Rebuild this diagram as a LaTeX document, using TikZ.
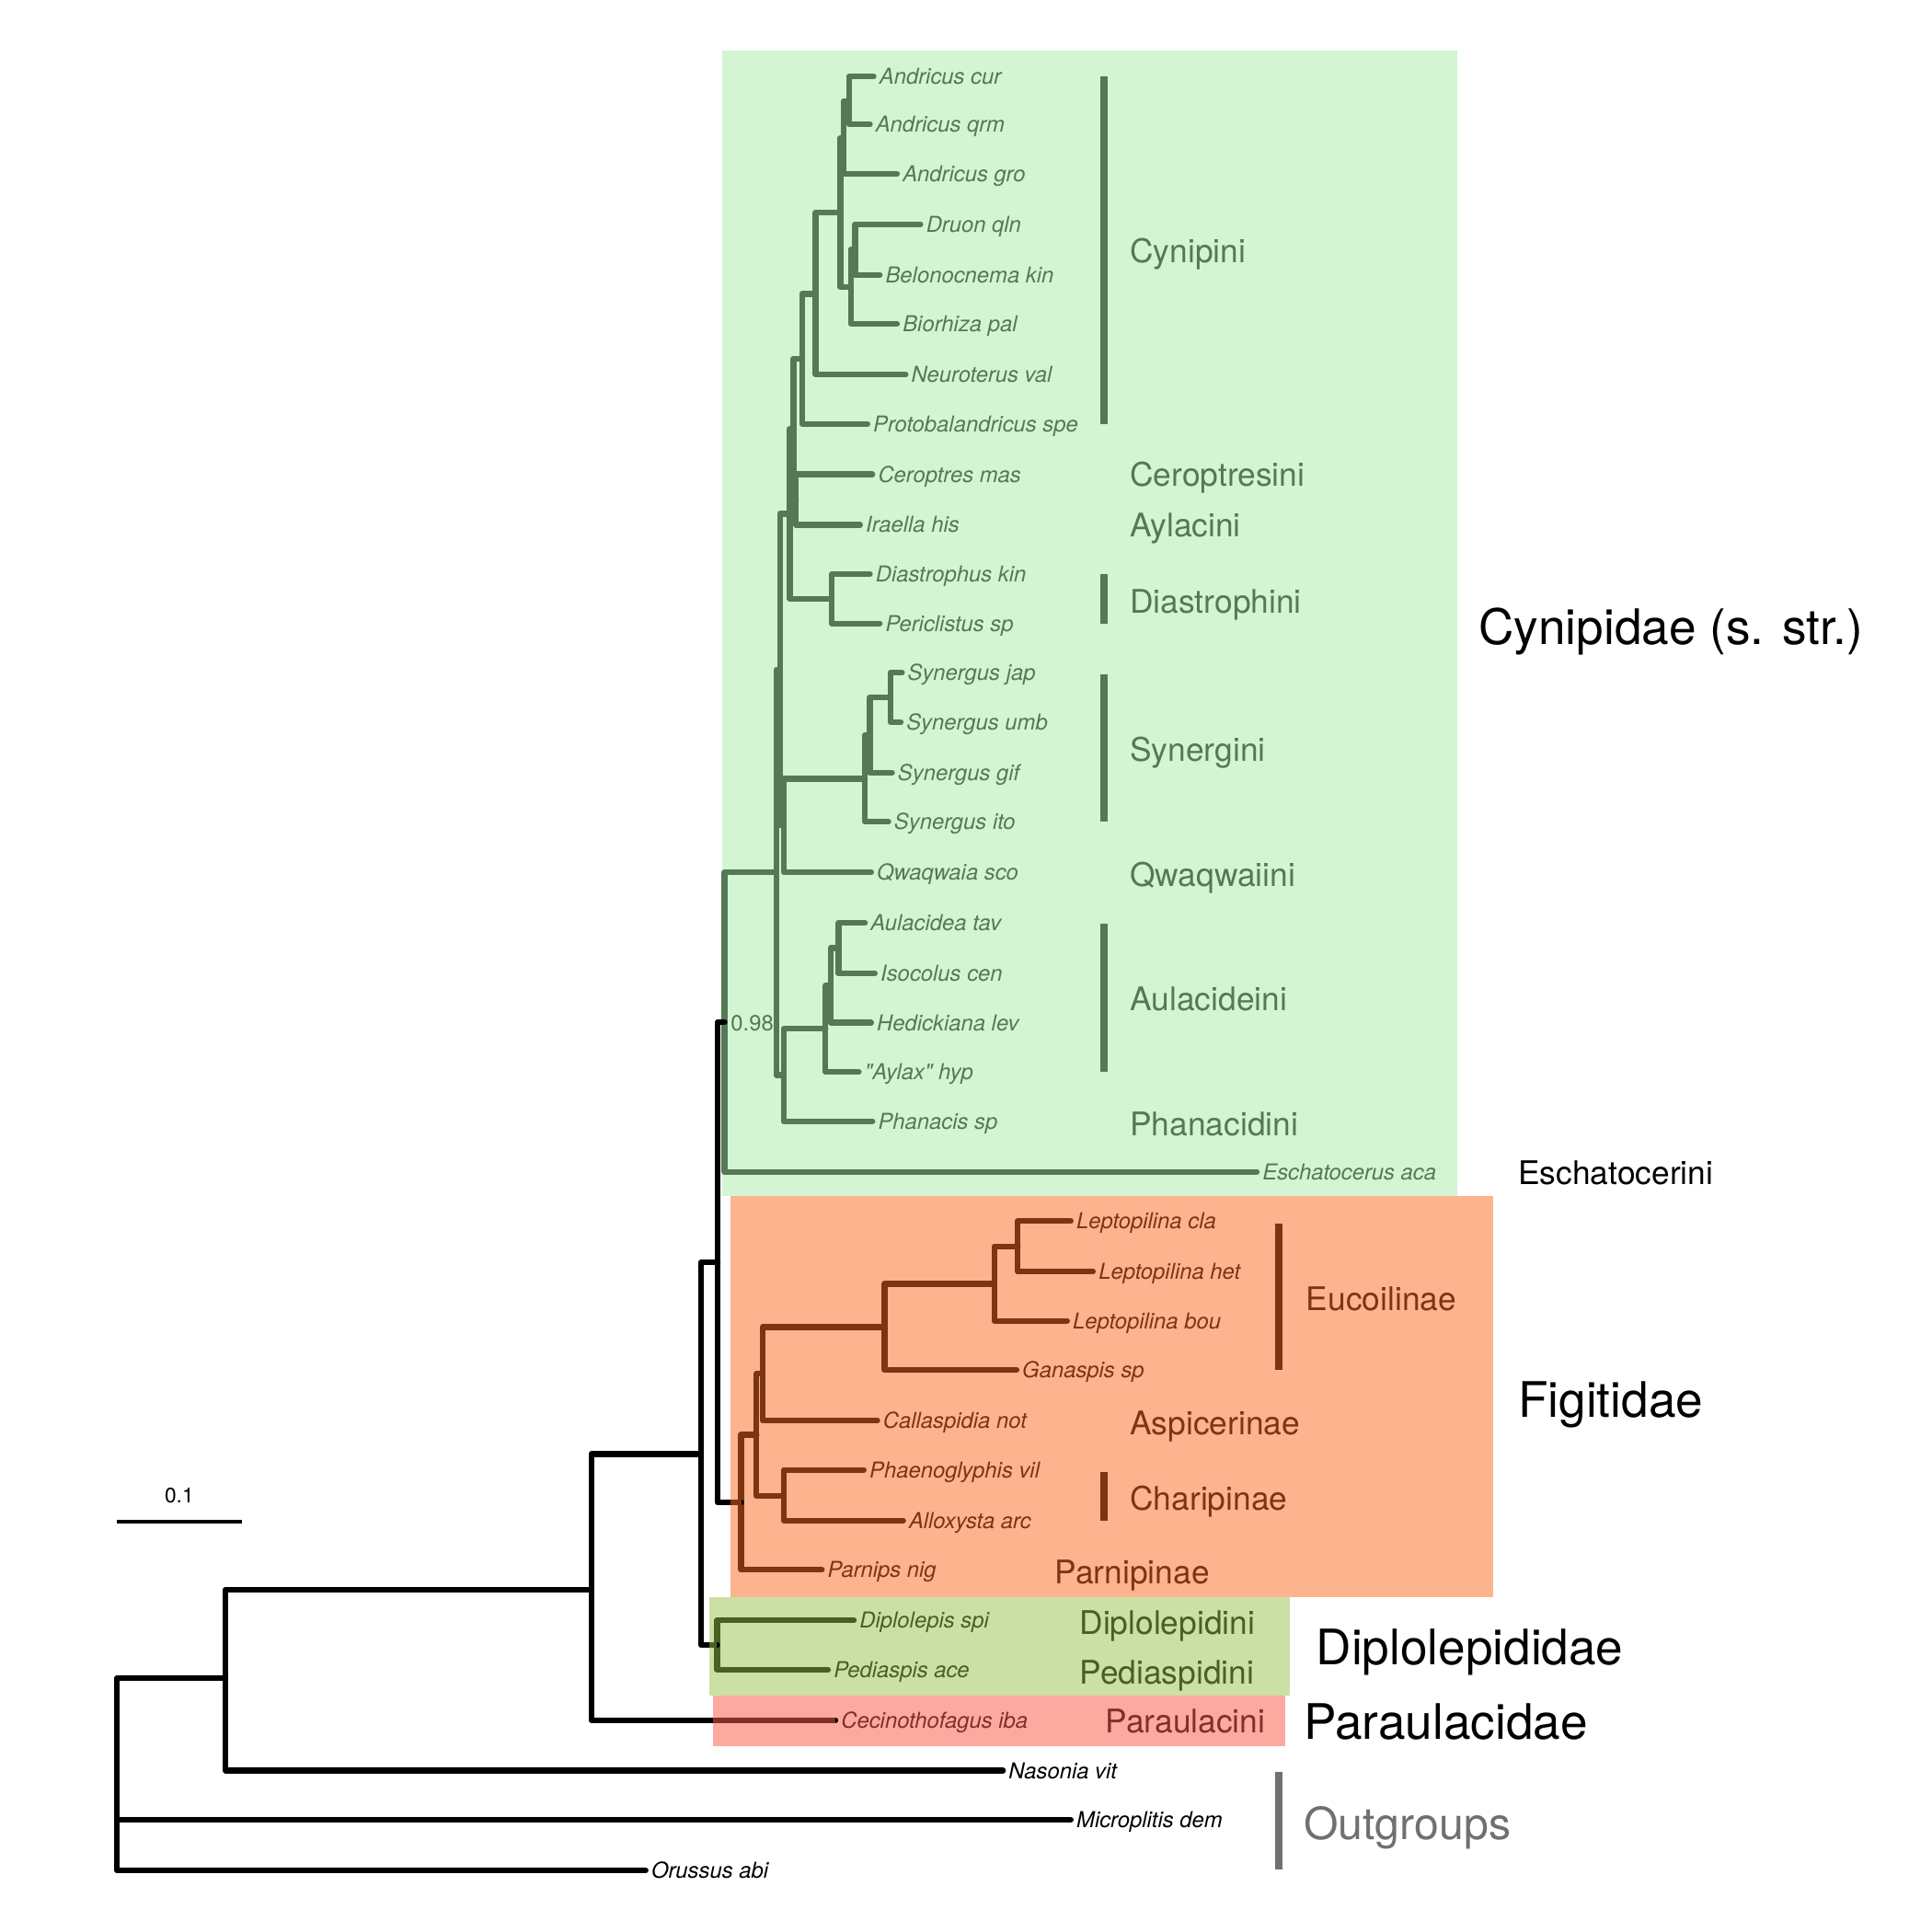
\documentclass[tikz,border=0pt]{standalone}
\usepackage{fontspec}
\setmainfont{TeX Gyre Heros}[Ligatures=TeXOff]
\usepackage{tikz}
\usetikzlibrary{positioning}
\usepackage{xcolor}
\definecolor{cynFill}{RGB}{211,245,211}
\definecolor{figFill}{RGB}{253,179,142}
\definecolor{dipFill}{RGB}{203,224,165}
\definecolor{parFill}{RGB}{252,170,160}
\definecolor{cynTree}{RGB}{85,120,85}
\definecolor{figTree}{RGB}{125,52,18}
\definecolor{dipTree}{RGB}{75,95,35}
\definecolor{parTree}{RGB}{131,46,38}
\definecolor{outGray}{RGB}{112,112,112}
\newcommand{\tiplabfont}{\fontsize{17.8}{20}\selectfont\itshape}
\newcommand{\tribefont}{\fontsize{26.4}{30}\selectfont}
\newcommand{\familyfont}{\fontsize{39.7}{44}\selectfont}

\begin{document}
\begin{tikzpicture}[x=1pt, y=-1pt,
  br/.style={line width=4.7pt, line cap=round, line join=round},
  tiplab/.style={anchor=base west, inner sep=0pt, xshift=4.5pt, yshift=-6.3pt, font=\tiplabfont},
  tribe/.style={anchor=base west, inner sep=0pt, yshift=-9.5pt, font=\tribefont},
  family/.style={anchor=base west, inner sep=0pt, yshift=-14.2pt, font=\familyfont},
  cladebar/.style={line width=6pt}]
  \useasboundingbox (0,0) rectangle (1568,1568);

  % Coloured boxes behind the clades
  \fill[cynFill] (586,41) rectangle (1183,971);
  \fill[figFill] (593,971) rectangle (1212,1296);
  \fill[dipFill] (576,1296) rectangle (1047,1376);
  \fill[parFill] (579,1376) rectangle (1043,1417);

  % Tips: name / x / y / label
  \foreach \t/\x/\y/\lab in {cur/709/62/Andricus cur, qrm/706/101/Andricus qrm,
      gro/728/141/Andricus gro, druon/747/182/Druon qln, belono/714/223/Belonocnema kin,
      bio/728/263/Biorhiza pal, neuro/735/304/Neuroterus val,
      proto/704/344/Protobalandricus spe, cero/708/385/Ceroptres mas,
      ira/698/426/Iraella his, diast/706/466/Diastrophus kin,
      peri/714/506/Periclistus sp, jap/732/546/Synergus jap, umb/731/586/Synergus umb,
      gif/724/627/Synergus gif, ito/721/667/Synergus ito, qwaq/707/708/Qwaqwaia sco,
      aul/702/749/Aulacidea tav, iso/710/790/Isocolus cen, hed/707/830/Hedickiana lev,
      aylax/697/870/"Aylax" hyp, phan/708/910/Phanacis sp,
      esch/1020/951/Eschatocerus aca} {
    \coordinate (\t) at (\x,\y);
    \node[tiplab, cynTree] (\t-lab) at (\t) {\lab};
  }
  \foreach \t/\x/\y/\lab in {cla/869/991/Leptopilina cla, het/887/1032/Leptopilina het,
      bou/866/1072/Leptopilina bou, gan/825/1112/Ganaspis sp,
      call/712/1153/Callaspidia not, phaeno/701/1193/Phaenoglyphis vil,
      allox/733/1234/Alloxysta arc, parn/667/1274/Parnips nig} {
    \coordinate (\t) at (\x,\y);
    \node[tiplab, figTree] (\t-lab) at (\t) {\lab};
  }
  \foreach \t/\x/\y/\lab in {dipl/693/1315/Diplolepis spi, ped/672/1355/Pediaspis ace} {
    \coordinate (\t) at (\x,\y);
    \node[tiplab, dipTree] (\t-lab) at (\t) {\lab};
  }
  \coordinate (cec) at (678,1396);
  \node[tiplab, parTree] (cec-lab) at (cec) {Cecinothofagus iba};
  \foreach \t/\x/\y/\lab in {nas/814/1437/Nasonia vit, mic/869/1477/Microplitis dem,
      oru/524/1518/Orussus abi} {
    \coordinate (\t) at (\x,\y);
    \node[tiplab] (\t-lab) at (\t) {\lab};
  }

  % Internal nodes of the tree
  \foreach \n/\x/\y in {cq/689/82, cqg/684.5/112, db/694/202.5, dbb/690.5/233,
      andr/682/172.5, cyn1/662/238.5, cyn2/651/291, ci/646/405, cyn3/644/348,
      dia/675/486, cyn4/641/417, ju/722.5/566, jug/706/596.5, syn/702/632,
      sq/636/670, up/633/543.5, ai/680.5/769.5, aih/674/800, aula/670/835,
      ap/636/872.5, core/630/708, cynroot/588/829.5,
      ch/826/1011.5, lep/807/1042, euc/718/1077, ea/619/1115, phal/636/1214,
      eac/614/1164.5, figroot/601.5/1219.5,
      cf/582.5/1024.5, dip/582/1335, cfd/569/1180, ing/480/1290,
      ingn/183/1362, root/95/1440}
    \coordinate (\n) at (\x,\y);

  % Cynipidae branches
  \foreach \p/\c in {cq/cur, cq/qrm, cqg/cq, cqg/gro, db/druon, db/belono,
      dbb/db, dbb/bio, andr/cqg, andr/dbb, cyn1/andr, cyn1/neuro, cyn2/cyn1,
      cyn2/proto, ci/cero, ci/ira, cyn3/cyn2, cyn3/ci, dia/diast, dia/peri,
      cyn4/cyn3, cyn4/dia, ju/jap, ju/umb, jug/ju, jug/gif, syn/jug, syn/ito,
      sq/syn, sq/qwaq, up/cyn4, up/sq, ai/aul, ai/iso, aih/ai, aih/hed,
      aula/aih, aula/aylax, ap/aula, ap/phan, core/up, core/ap,
      cynroot/core, cynroot/esch}
    \draw[br, cynTree] (\p) |- (\c);

  % Figitidae branches
  \foreach \p/\c in {ch/cla, ch/het, lep/ch, lep/bou, euc/lep, euc/gan,
      ea/euc, ea/call, phal/phaeno, phal/allox, eac/ea, eac/phal,
      figroot/eac, figroot/parn}
    \draw[br, figTree] (\p) |- (\c);

  % Diplolepididae branches
  \draw[br, dipTree] (dip) |- (dipl) (dip) |- (ped);

  % Backbone
  \foreach \p/\c in {cf/cynroot, cf/figroot, cfd/cf, cfd/dip, ing/cfd, ing/cec,
      ingn/ing, ingn/nas, root/ingn, root/mic, root/oru}
    \draw[br] (\p) |- (\c);

  % Branch colour inside the boxes
  \coordinate (figEdge) at (593,1219.5);
  \coordinate (dipEdge) at (576,1335);
  \coordinate (parEdge) at (579,1396);
  \draw[br, line cap=butt, figTree] (figEdge) -- (figroot);
  \draw[br, line cap=butt, dipTree] (dipEdge) -- (dip);
  \draw[br, line cap=butt, parTree] (parEdge) -- (cec);

  % Support value and scale bar
  \node[anchor=base west, inner sep=0pt, yshift=-6.3pt, font=\fontsize{17.8}{20}\selectfont, cynTree]
    (supp) at (593,830) {0.98};
  \coordinate (scaleL) at (95,1235);
  \coordinate (scaleR) at (196,1235);
  \draw[line width=3pt] (scaleL) -- (scaleR);
  \node[anchor=base, inner sep=0pt, font=\fontsize{17}{20}\selectfont]
    (scalelab) at (145.5,1220) {0.1};

  % Clade bars
  \draw[cladebar, cynTree] (896,62) -- (896,344);
  \draw[cladebar, cynTree] (896,466) -- (896,506);
  \draw[cladebar, cynTree] (896,547) -- (896,667);
  \draw[cladebar, cynTree] (896,750) -- (896,870);
  \draw[cladebar, figTree] (1038,993) -- (1038,1112);
  \draw[cladebar, figTree] (896,1195) -- (896,1234);
  \draw[cladebar, outGray] (1038,1438) -- (1038,1517);

  % Tribe and subfamily names
  \foreach \x/\y/\lab in {917/204/Cynipini, 917/385/Ceroptresini, 917/426/Aylacini,
      917/488/Diastrophini, 917/608/Synergini, 917/710/Qwaqwaiini,
      917/811/Aulacideini, 917/912/Phanacidini}
    \node[tribe, cynTree] at (\x,\y) {\lab};
  \node[tribe] (eschlab) at (1232,952) {Eschatocerini};
  \foreach \x/\y/\lab in {1060/1054/Eucoilinae, 917/1155/Aspicerinae,
      917/1216/Charipinae, 856/1276/Parnipinae}
    \node[tribe, figTree] at (\x,\y) {\lab};
  \node[tribe, dipTree] (diplab) at (876,1317) {Diplolepidini};
  \node[tribe, dipTree] (pedlab) at (876,1357) {Pediaspidini};
  \node[tribe, parTree] (parlab) at (897,1397) {Paraulacini};

  % Family names
  \node[family] (cynfam) at (1200,509) {Cynipidae (s. str.)};
  \node[family] (figfam) at (1232,1136) {Figitidae};
  \node[family] (dipfam) at (1068,1337) {Diplolepididae};
  \node[family] (parfam) at (1058,1397) {Paraulacidae};
  \node[family, outGray, font=\fontsize{36}{40}\selectfont] (outfam) at (1058,1479) {Outgroups};
\end{tikzpicture}
\end{document}
